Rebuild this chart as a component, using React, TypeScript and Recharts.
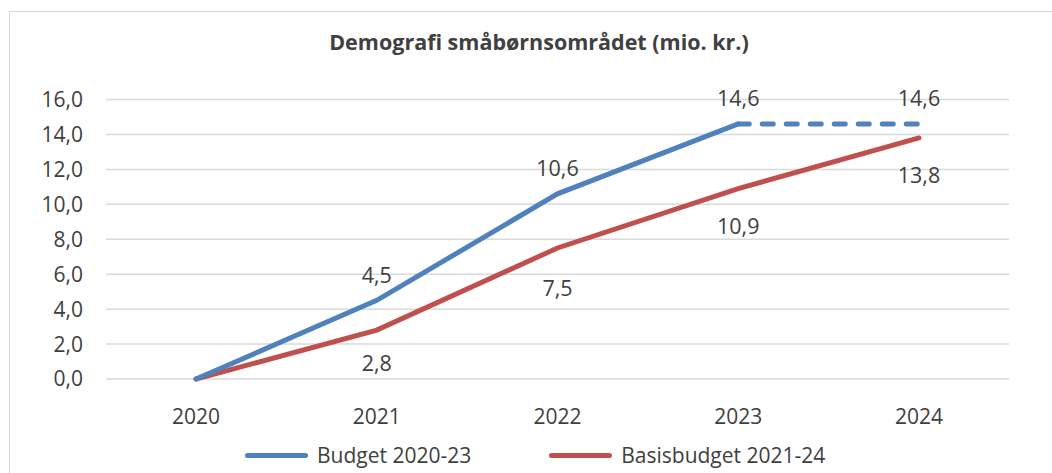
import React from "react"
import { LineChart, Line, XAxis, YAxis, CartesianGrid, Legend, LabelList } from "recharts"

const years = ["2020", "2021", "2022", "2023", "2024"]
const budget = [0, 4.5, 10.6, 14.6, null]
const budgetForecast = [null, null, null, 14.6, 14.6]
const basisbudget = [0, 2.8, 7.5, 10.9, 13.8]
const yTicks = [0, 2, 4, 6, 8, 10, 12, 14, 16]

const data = years.map((year, i) => ({
  year,
  budget: budget[i],
  budgetForecast: budgetForecast[i],
  basisbudget: basisbudget[i],
}))

const BLUE = "#4F81BD"
const RED = "#C0504D"
const TEXT = "#404040"
const FONT = "'Open Sans', sans-serif"

const fmt = (v: number) => v.toFixed(1).replace(".", ",")

// offset of red labels below the line, per point
const redOffsets = [0, 32, 40, 37, 37]

function makeLabel(show: (i: number) => boolean, dyFor: (i: number) => number) {
  return (props: any) => {
    const { x, y, value, index } = props
    if (value == null || !show(index)) return null
    return (
      <text
        x={x}
        y={y + dyFor(index)}
        textAnchor="middle"
        dominantBaseline="central"
        fontSize={21.5}
        fontFamily={FONT}
        fill={TEXT}
      >
        {fmt(value)}
      </text>
    )
  }
}

function LegendContent() {
  const item = (color: string, label: string, gapAfter: number) => (
    <div style={{ display: "flex", alignItems: "center", marginRight: gapAfter }}>
      <div style={{ width: 63, height: 5, borderRadius: 3, background: color, marginRight: 9 }} />
      <span style={{ fontSize: 21, color: TEXT, fontFamily: FONT, lineHeight: "24px" }}>{label}</span>
    </div>
  )
  return (
    <div style={{ display: "flex", alignItems: "center", marginLeft: 245 }}>
      {item(BLUE, "Budget 2020-23", 78)}
      {item(RED, "Basisbudget 2021-24", 0)}
    </div>
  )
}

export default function App() {
  return (
    <div style={{ position: "absolute", left: 0, top: 0, width: 1052, height: 473, background: "#fff", overflow: "hidden" }}>
      <div
        style={{
          position: "absolute",
          left: 9,
          top: 11,
          width: 1100,
          height: 500,
          borderTop: "1px solid #D9D9D9",
          borderLeft: "1px solid #D9D9D9",
        }}
      />
      <div
        style={{
          position: "absolute",
          left: 0,
          top: 27,
          width: 1078,
          textAlign: "center",
          fontFamily: FONT,
          fontWeight: 700,
          fontSize: 21.5,
          color: TEXT,
          lineHeight: "30px",
        }}
      >
        Demografi småbørnsområdet (mio. kr.)
      </div>
      <div style={{ position: "absolute", left: 0, top: 0 }}>
        <LineChart width={1052} height={473} data={data} margin={{ top: 99.5, right: 43, left: 0, bottom: 40 }}>
          <CartesianGrid vertical={false} stroke="#D9D9D9" strokeWidth={1.5} />
          <XAxis
            dataKey="year"
            axisLine={false}
            tickLine={false}
            tickSize={0}
            tickMargin={30}
            height={30}
            padding={{ left: 90, right: 90 }}
            tick={{ fontSize: 21, fill: TEXT, fontFamily: FONT }}
          />
          <YAxis
            domain={[0, 16]}
            ticks={yTicks}
            width={106}
            axisLine={false}
            tickLine={false}
            tickSize={0}
            tickMargin={23}
            tickFormatter={fmt}
            tick={{ fontSize: 21, fill: TEXT, fontFamily: FONT }}
          />
          <Legend
            verticalAlign="bottom"
            content={<LegendContent />}
            wrapperStyle={{ top: 443, bottom: "auto", left: 0, width: 1052, height: 24 }}
          />
          <Line
            dataKey="basisbudget"
            stroke={RED}
            strokeWidth={5}
            dot={false}
            strokeLinecap="round"
            isAnimationActive={false}
          >
            <LabelList content={makeLabel((i) => i > 0, (i) => redOffsets[i])} />
          </Line>
          <Line
            dataKey="budget"
            stroke={BLUE}
            strokeWidth={5}
            dot={false}
            strokeLinecap="round"
            isAnimationActive={false}
          >
            <LabelList content={makeLabel((i) => i > 0 && i < 4, () => -26)} />
          </Line>
          <Line
            dataKey="budgetForecast"
            stroke={BLUE}
            strokeWidth={5}
            strokeDasharray="11 13"
            strokeLinecap="round"
            dot={false}
            isAnimationActive={false}
          >
            <LabelList content={makeLabel((i) => i === 4, () => -26)} />
          </Line>
        </LineChart>
      </div>
    </div>
  )
}
